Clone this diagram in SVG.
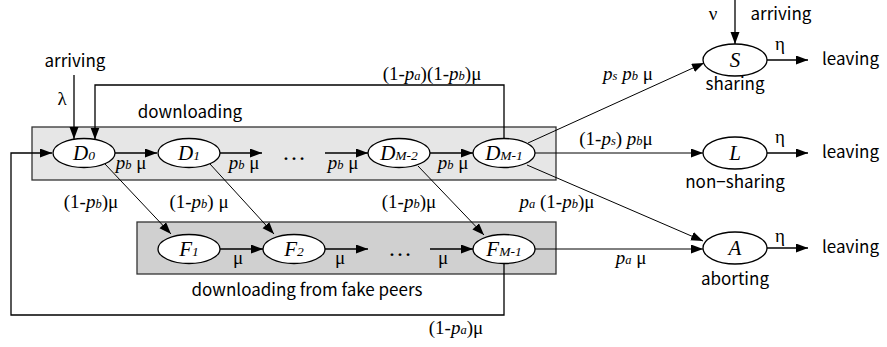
<svg xmlns="http://www.w3.org/2000/svg" width="887" height="347" viewBox="0 0 887 347">
  <defs>
    <marker id="arr" markerUnits="userSpaceOnUse" markerWidth="13" markerHeight="10" refX="12" refY="4.5" orient="auto">
      <path d="M0,0 L12,4.5 L0,9 z" fill="#000"/>
    </marker>
  </defs>
  <style>
    .node { fill: #fff; stroke: #000; stroke-width: 1.3; }
    .edge { fill: none; stroke: #000; stroke-width: 1.3; marker-end: url(#arr); }
    .thin { stroke-width: 1; }
    .math { font-family: "Liberation Serif", "DejaVu Serif", serif; font-size: 19px; fill: #000; }
    .it { font-style: italic; }
    .sub { font-style: italic; font-size: 12.5px; }
    .dots { font-family: "Liberation Serif", serif; font-size: 24px; fill: #000; }
    .name { font-family: "Liberation Serif", "DejaVu Serif", serif; font-style: italic; font-size: 21px; fill: #000; }
    .nsub { font-style: italic; font-size: 13.5px; }
    .lbl { font-family: "Noto Sans CJK JP", "Noto Sans", sans-serif; font-size: 17px; fill: #000; }
  </style>

  <!-- group panels -->
  <g id="panel-downloading">
    <rect x="32" y="127" width="524" height="53" fill="#e6e6e6" stroke="#333" stroke-width="1.3"/>
    <text class="lbl" x="190" y="118" text-anchor="middle">downloading</text>
  </g>
  <g id="panel-fake">
    <rect x="137" y="222" width="419" height="52" fill="#d0d0d0" stroke="#333" stroke-width="1.3"/>
    <text class="lbl" x="307" y="296" text-anchor="middle">downloading from fake peers</text>
  </g>

  <!-- connectors -->
  <g id="connectors">
    <path class="edge" d="M74,75 V139"/>
    <path class="edge" d="M504,138.5 V85 H95 V139.5"/>
    <path class="edge" d="M115,153 H157"/>
    <path class="edge" d="M220,153 H262"/>
    <path class="edge" d="M325,153 H368"/>
    <path class="edge" d="M430,153 H473"/>
    <path class="edge" d="M504,263.5 V315 H11 V153 H52"/>
    <path class="edge thin" d="M105,164 L171,234"/>
    <path class="edge thin" d="M210,164 L274,234"/>
    <path class="edge thin" d="M418,166 L484,235"/>
    <path class="edge" d="M220,249 H263"/>
    <path class="edge" d="M325,249 H368"/>
    <path class="edge" d="M430,249 H473"/>
    <path class="edge thin" d="M528,143 L704,63"/>
    <path class="edge thin" d="M535,153 H703"/>
    <path class="edge thin" d="M527,165 L703,241"/>
    <path class="edge thin" d="M535,249 H703"/>
    <path class="edge" d="M735,0 V44"/>
    <path class="edge" d="M767,60 H808"/>
    <path class="edge" d="M767,153 H808"/>
    <path class="edge" d="M767,248 H808"/>

    <!-- rate labels -->
    <text class="lbl" x="75" y="67" text-anchor="middle">arriving</text>
    <text class="math" x="62" y="105" text-anchor="middle">λ</text>
    <text class="math" x="432" y="80" text-anchor="middle">(1-<tspan class="it">p</tspan><tspan class="sub">a</tspan>)(1-<tspan class="it">p</tspan><tspan class="sub">b</tspan>)μ</text>
    <text class="math" x="131" y="169" text-anchor="middle"><tspan class="it">p</tspan><tspan class="sub">b</tspan> μ</text>
    <text class="math" x="244" y="169" text-anchor="middle"><tspan class="it">p</tspan><tspan class="sub">b</tspan> μ</text>
    <text class="math" x="343" y="169" text-anchor="middle"><tspan class="it">p</tspan><tspan class="sub">b</tspan> μ</text>
    <text class="math" x="453" y="169" text-anchor="middle"><tspan class="it">p</tspan><tspan class="sub">b</tspan> μ</text>
    <text class="math" x="91" y="208" text-anchor="middle">(1-<tspan class="it">p</tspan><tspan class="sub">b</tspan>)μ</text>
    <text class="math" x="199" y="208" text-anchor="middle">(1-<tspan class="it">p</tspan><tspan class="sub">b</tspan>) μ</text>
    <text class="math" x="409" y="208" text-anchor="middle">(1-<tspan class="it">p</tspan><tspan class="sub">b</tspan>)μ</text>
    <text class="math" x="557" y="208" text-anchor="middle"><tspan class="it">p</tspan><tspan class="sub">a</tspan> (1-<tspan class="it">p</tspan><tspan class="sub">b</tspan>)μ</text>
    <text class="math" x="238" y="264" text-anchor="middle">μ</text>
    <text class="math" x="340" y="264" text-anchor="middle">μ</text>
    <text class="math" x="443" y="264" text-anchor="middle">μ</text>
    <text class="dots" x="294" y="160" text-anchor="middle">…</text>
    <text class="dots" x="400" y="256" text-anchor="middle">…</text>
    <text class="math" x="456" y="334" text-anchor="middle">(1-<tspan class="it">p</tspan><tspan class="sub">a</tspan>)μ</text>
    <text class="math" x="628" y="80" text-anchor="middle"><tspan class="it">p</tspan><tspan class="sub">s</tspan> <tspan class="it">p</tspan><tspan class="sub">b</tspan> μ</text>
    <text class="math" x="616" y="145" text-anchor="middle">(1-<tspan class="it">p</tspan><tspan class="sub">s</tspan>) <tspan class="it">p</tspan><tspan class="sub">b</tspan>μ</text>
    <text class="math" x="631" y="264" text-anchor="middle"><tspan class="it">p</tspan><tspan class="sub">a</tspan> μ</text>
    <text class="math" x="713" y="20" text-anchor="middle">ν</text>
    <text class="lbl" x="781" y="20" text-anchor="middle">arriving</text>
    <text class="math" x="780" y="50" text-anchor="middle">η</text>
    <text class="math" x="780" y="143" text-anchor="middle">η</text>
    <text class="math" x="780" y="242" text-anchor="middle">η</text>
    <text class="lbl" x="822" y="65">leaving</text>
    <text class="lbl" x="822" y="158">leaving</text>
    <text class="lbl" x="822" y="253">leaving</text>
  </g>

  <!-- states -->
  <g id="D0"><ellipse class="node" cx="84" cy="153" rx="31" ry="14.5"/><text class="name" x="84" y="160" text-anchor="middle">D<tspan class="nsub">0</tspan></text></g>
  <g id="D1"><ellipse class="node" cx="189" cy="153" rx="31" ry="14.5"/><text class="name" x="189" y="160" text-anchor="middle">D<tspan class="nsub">1</tspan></text></g>
  <g id="DM-2"><ellipse class="node" cx="399" cy="153" rx="31" ry="14.5"/><text class="name" x="399" y="160" text-anchor="middle">D<tspan class="nsub">M-2</tspan></text></g>
  <g id="DM-1"><ellipse class="node" cx="504" cy="153" rx="31" ry="14.5"/><text class="name" x="504" y="160" text-anchor="middle">D<tspan class="nsub">M-1</tspan></text></g>
  <g id="F1"><ellipse class="node" cx="189" cy="249" rx="31" ry="14.5"/><text class="name" x="189" y="256" text-anchor="middle">F<tspan class="nsub">1</tspan></text></g>
  <g id="F2"><ellipse class="node" cx="294" cy="249" rx="31" ry="14.5"/><text class="name" x="294" y="256" text-anchor="middle">F<tspan class="nsub">2</tspan></text></g>
  <g id="FM-1"><ellipse class="node" cx="504" cy="249" rx="31" ry="14.5"/><text class="name" x="504" y="256" text-anchor="middle">F<tspan class="nsub">M-1</tspan></text></g>
  <g id="S"><ellipse class="node" cx="735" cy="60" rx="32" ry="16"/><text class="name" x="735" y="67" text-anchor="middle">S</text><text class="lbl" x="735" y="90" text-anchor="middle">sharing</text></g>
  <g id="L"><ellipse class="node" cx="735" cy="153" rx="32" ry="16"/><text class="name" x="735" y="160" text-anchor="middle">L</text><text class="lbl" x="735" y="188" text-anchor="middle">non−sharing</text></g>
  <g id="A"><ellipse class="node" cx="735" cy="248" rx="32" ry="16"/><text class="name" x="735" y="255" text-anchor="middle">A</text><text class="lbl" x="735" y="285" text-anchor="middle">aborting</text></g>
</svg>
